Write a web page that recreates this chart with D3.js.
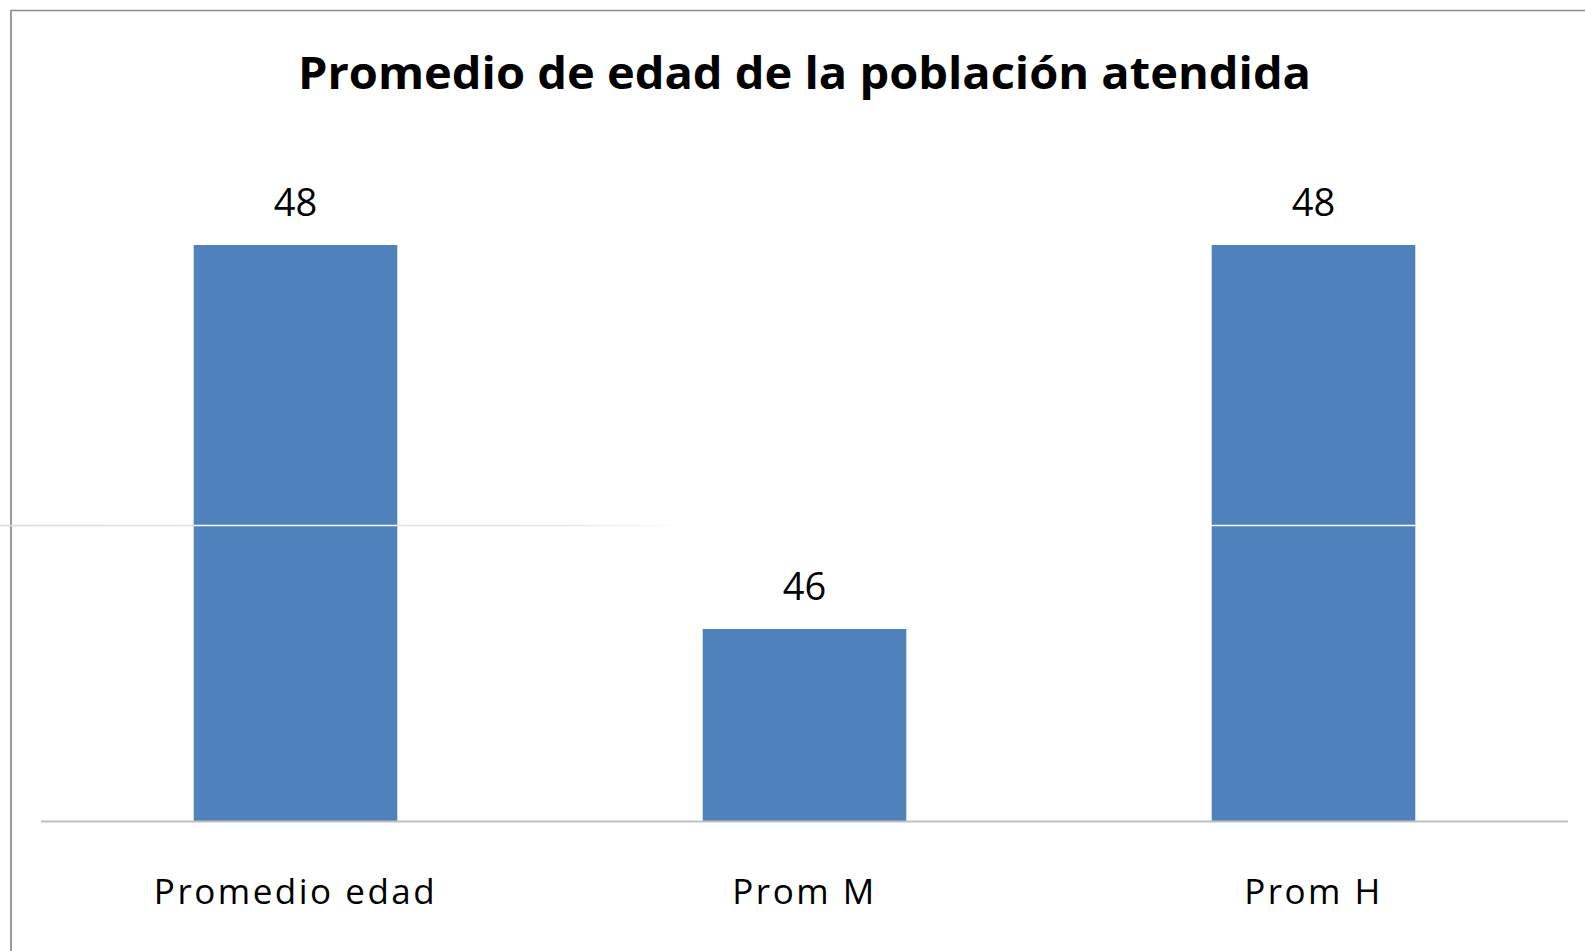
<!DOCTYPE html>
<html>
<head>
<meta charset="utf-8">
<script src="https://cdn.jsdelivr.net/npm/d3@7"></script>
<style>
  html, body { margin: 0; padding: 0; background: #fff; }
  svg { display: block; }
</style>
</head>
<body>
<div id="chart"></div>
<script>
const categories = ['Promedio edad', 'Prom M', 'Prom H'];
const values = [48, 46, 48];
const valueLabels = ['48', '46', '48'];
const yDomain = [45, 49];
const guideValue = 46.54; // stray horizontal line seen in the picture
const title = 'Promedio de edad de la población atendida';

const width = 1585;
const height = 951;
const margin = { top: 53, right: 17, bottom: 130, left: 41 };
const barColor = '#4F81BD';
const font = '"Open Sans", "Noto Sans", sans-serif';

const svg = d3
  .select('#chart')
  .append('svg')
  .attr('width', width)
  .attr('height', height);

// Outer frame (only top and left edges visible)
svg.append('line')
  .attr('x1', 11).attr('x2', width).attr('y1', 10.5).attr('y2', 10.5)
  .attr('stroke', '#8c8c8c').attr('stroke-width', 1.5);
svg.append('line')
  .attr('x1', 11).attr('x2', 11).attr('y1', 10).attr('y2', height)
  .attr('stroke', '#999').attr('stroke-width', 2);

const x = d3
  .scaleBand()
  .domain(categories)
  .range([margin.left, width - margin.right])
  .paddingInner(0.6)
  .paddingOuter(0.3);

const y = d3
  .scaleLinear()
  .domain(yDomain)
  .range([height - margin.bottom, margin.top]);

// Title
svg.append('text')
  .attr('x', (margin.left + width - margin.right) / 2)
  .attr('y', 89)
  .attr('text-anchor', 'middle')
  .attr('font-family', font)
  .attr('font-weight', 'bold')
  .attr('font-size', '44px')
  .attr('fill', '#000')
  .attr('textLength', 1013)
  .attr('lengthAdjust', 'spacingAndGlyphs')
  .text(title);

// Faint guide line on the left part
const grad = svg.append('defs').append('linearGradient')
  .attr('id', 'guide-fade')
  .attr('gradientUnits', 'userSpaceOnUse')
  .attr('x1', 0).attr('x2', 690).attr('y1', 0).attr('y2', 0);
grad.append('stop').attr('offset', '0%').attr('stop-color', '#dcdcdc');
grad.append('stop').attr('offset', '80%').attr('stop-color', '#e4e4e4');
grad.append('stop').attr('offset', '100%').attr('stop-color', '#ffffff');

svg.append('line')
  .attr('x1', 0).attr('x2', 690)
  .attr('y1', Math.round(y(guideValue)) + 0.5)
  .attr('y2', Math.round(y(guideValue)) + 0.5)
  .attr('stroke', 'url(#guide-fade)')
  .attr('stroke-width', 1.5);

// Bars
svg.selectAll('.bar')
  .data(values)
  .join('rect')
  .attr('class', 'bar')
  .attr('x', (d, i) => x(categories[i]))
  .attr('y', (d) => y(d))
  .attr('width', x.bandwidth())
  .attr('height', (d) => y(yDomain[0]) - y(d))
  .attr('fill', barColor);

// White guide line across the bars
const clip = svg.select('defs').append('clipPath').attr('id', 'bars-clip');
clip.selectAll('rect')
  .data(values)
  .join('rect')
  .attr('x', (d, i) => x(categories[i]))
  .attr('y', (d) => y(d))
  .attr('width', x.bandwidth())
  .attr('height', (d) => y(yDomain[0]) - y(d));

svg.append('line')
  .attr('x1', margin.left).attr('x2', width - margin.right)
  .attr('y1', Math.round(y(guideValue)) + 0.5)
  .attr('y2', Math.round(y(guideValue)) + 0.5)
  .attr('stroke', '#fff')
  .attr('stroke-width', 1.5)
  .attr('clip-path', 'url(#bars-clip)');

// Value labels
svg.selectAll('.val')
  .data(values)
  .join('text')
  .attr('class', 'val')
  .attr('x', (d, i) => x(categories[i]) + x.bandwidth() / 2)
  .attr('y', (d) => y(d) - 29)
  .attr('text-anchor', 'middle')
  .attr('font-family', font)
  .attr('font-size', '38px')
  .attr('fill', '#000')
  .text((d, i) => valueLabels[i]);

// X axis
const axis = svg.append('g')
  .attr('transform', `translate(0,${y(yDomain[0])})`)
  .call(d3.axisBottom(x).tickSize(0).tickPadding(0));
axis.select('.domain')
  .attr('d', `M${margin.left},0.5H${width - margin.right}`)
  .attr('stroke', '#bfbfbf')
  .attr('stroke-width', 2);
axis.selectAll('.tick text')
  .attr('dy', null)
  .attr('y', 83)
  .attr('font-family', font)
  .attr('font-size', '35px')
  .attr('letter-spacing', '2.5px')
  .attr('fill', '#000');
</script>
</body>
</html>
